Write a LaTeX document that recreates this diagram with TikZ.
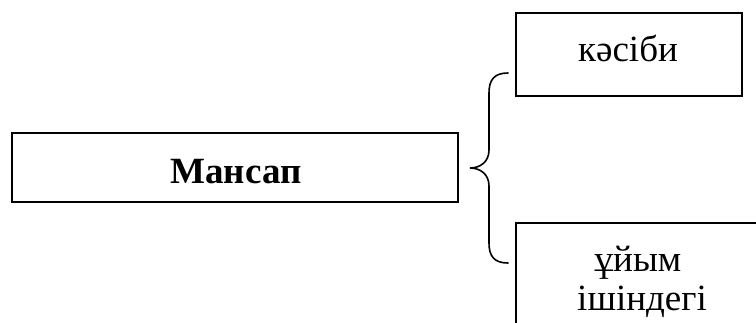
\documentclass[tikz,border=0pt]{standalone}
\usepackage{fontspec}
\setmainfont{Liberation Serif}
\begin{document}
\begin{tikzpicture}[x=1pt,y=-1pt,
  boxline/.style={draw=black,line width=1.6pt},
  lbl/.style={font=\fontsize{37}{44}\selectfont,inner sep=0pt,anchor=base},
  bracestyle/.style={draw=black,line width=1.6pt,line cap=round}]
\useasboundingbox (0,0) rectangle (756,322);
\clip (0,0) rectangle (756,322);
% left box
\draw[boxline] (12,133) rectangle (458,202);
\node[lbl,font=\fontsize{37}{44}\selectfont\bfseries] (mansap) at (236,183) {Мансап};
% top right box
\draw[boxline] (516,13) rectangle (742,96);
\node[lbl] (kasibi) at (628,61) {кәсіби};
% bottom right box (cut by the page)
\draw[boxline] (516,340) -- (516,223) -- (770,223);
\node[lbl] (uiym) at (638,271) {ұйым};
\node[lbl] (ishindegi) at (642,310) {ішіндегі};
% brace
\coordinate (btop) at (508,73);
\coordinate (btip) at (470,168);
\coordinate (bbot) at (508,263);
\draw[bracestyle] (btop) .. controls (494,73) and (489,80) .. (489,93)
  -- (489,150) .. controls (489,162) and (480,168) .. (btip)
  .. controls (480,168) and (489,174) .. (489,186)
  -- (489,243) .. controls (489,256) and (494,263) .. (bbot);
\end{tikzpicture}
\end{document}
